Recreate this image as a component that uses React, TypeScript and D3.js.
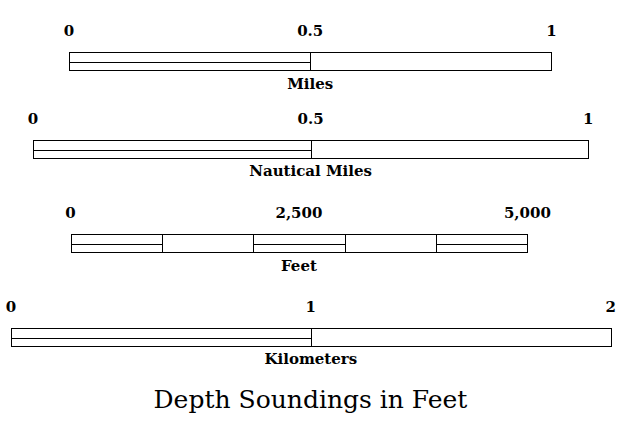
import React from 'react';
import * as d3 from 'd3';

// scale bars: unit name, length in that unit, number of segments
const unitNames = ['Miles', 'Nautical Miles', 'Feet', 'Kilometers'];
const unitLengths = [1, 1, 5000, 2];
const unitSegments = [2, 2, 5, 2];
const metersPerUnit = [1609.344, 1852, 0.3048, 1000];
const tickValues = [[0, 0.5, 1], [0, 0.5, 1], [0, 2500, 5000], [0, 1, 2]];
const tickLabels = [['0', '0.5', '1'], ['0', '0.5', '1'], ['0', '2,500', '5,000'], ['0', '1', '2']];
const title = 'Depth Soundings in Feet';

const W = 623;
const H = 424;
const pxPerMeter = 0.2998;
const barLeft = [69, 33, 70.5, 11];
const barTop = [52, 139.5, 234, 327.5];
const barH = 17.5;
const font = 'Georgia, "DejaVu Serif", serif';

const App: React.FC = () => {
  return (
    <svg width={W} height={H} style={{ position: 'absolute', left: 0, top: 0, background: '#fff' }}>
      {unitNames.map((name, i) => {
        const widthPx = unitLengths[i] * metersPerUnit[i] * pxPerMeter;
        const x = d3.scaleLinear().domain([0, unitLengths[i]]).range([barLeft[i], barLeft[i] + widthPx]);
        const y0 = Math.round(barTop[i]) + 0.5;
        const y1 = y0 + Math.round(barH);
        const yMid = Math.round((y0 + y1) / 2) + 0.5;
        const step = unitLengths[i] / unitSegments[i];
        const segs = d3.range(unitSegments[i]).map(k => [k * step, (k + 1) * step]);
        return (
          <g key={name}>
            {segs.map(([a, b], k) => {
              const xa = Math.round(x(a)) + 0.5;
              const xb = Math.round(x(b)) + 0.5;
              return (
                <g key={k}>
                  <rect x={xa} y={y0} width={xb - xa} height={y1 - y0} fill="#fff" stroke="#000" strokeWidth={1} />
                  {k % 2 === 0 && <line x1={xa} x2={xb} y1={yMid} y2={yMid} stroke="#000" strokeWidth={1} />}
                </g>
              );
            })}
            {tickValues[i].map((v, k) => (
              <text key={k} x={x(v)} y={barTop[i] - 16} textAnchor="middle" fontFamily={font}
                fontWeight="bold" fontSize={15} fill="#000">{tickLabels[i][k]}</text>
            ))}
            <text x={(x.range()[0] + x.range()[1]) / 2} y={barTop[i] + barH + 19} textAnchor="middle"
              fontFamily={font} fontWeight="bold" fontSize={15} fill="#000">{name}</text>
          </g>
        );
      })}
      <text x={310.5} y={408} textAnchor="middle" fontFamily={font} fontSize={25} fill="#000">{title}</text>
    </svg>
  );
};

export default App;
